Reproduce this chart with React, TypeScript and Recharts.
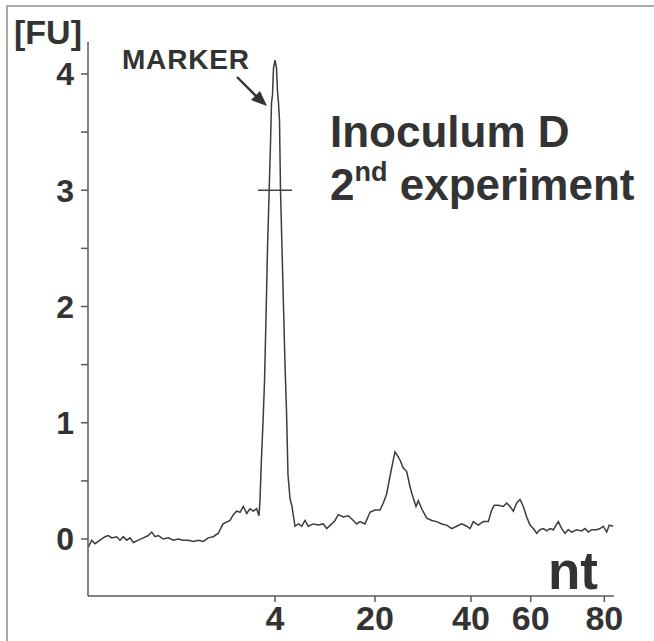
import { LineChart, Line, XAxis, YAxis, ReferenceLine, Customized } from 'recharts';

// migration time (s) and fluorescence [FU]
const timeS = [
  19.03, 19.37, 19.7, 20.2, 20.7, 21.03, 21.37, 21.87, 22.2, 22.53, 22.87, 23.2, 23.53, 24.03, 24.53,
  25.03, 25.37, 25.7, 26.03, 26.53, 27.03, 27.53, 28.03, 28.53, 29.03, 29.53, 30.03, 30.53, 31.03,
  31.53, 32.03, 32.5, 33.2, 33.53, 33.87, 34.2, 34.53, 34.87, 35.2, 35.53, 35.87, 36.1,
  36.2, 36.35, 36.5, 36.65, 36.8, 36.95, 37.1, 37.25, 37.35, 37.45, 37.55, 37.7, 37.85, 37.95, 38.05,
  38.15, 38.25, 38.4, 38.55, 38.7, 38.85, 39.0, 39.2, 39.4, 39.7,
  40.03, 40.37, 40.7, 41.03, 41.53, 42.03, 42.53, 42.87, 43.37, 43.7, 44.03, 44.53, 45.03, 45.53,
  45.87, 46.2, 46.7, 47.2, 47.7, 48.2, 48.53, 48.87, 49.2, 49.53, 49.7, 49.93, 50.2, 50.53, 50.87,
  51.2, 51.53, 51.8, 52.03, 52.37, 52.87, 53.37, 53.87, 54.37, 54.87, 55.37, 55.87, 56.37, 56.87,
  57.2, 57.53, 58.03, 58.53, 59.03, 59.37, 59.63, 60.03, 60.53, 60.87, 61.2, 61.53, 61.87, 62.2,
  62.53, 62.87, 63.2, 63.53, 63.87, 64.2, 64.53, 64.87, 65.2, 65.53, 66.03, 66.37, 66.7, 67.03,
  67.37, 67.87, 68.37, 68.7, 69.03, 69.37, 69.87, 70.2, 70.53, 70.87, 71.13, 71.53,
];

const fu = [
  -0.07, -0.01, -0.04, -0.01, 0.02, 0.03, 0.01, 0.02, -0.01, 0.02, -0.01, 0.01, -0.03, -0.01, 0.01,
  0.03, 0.06, 0.02, 0.03, 0.0, 0.01, -0.01, 0.0, -0.01, -0.01, -0.02, -0.01, -0.02, 0.01,
  0.02, 0.05, 0.13, 0.16, 0.21, 0.24, 0.23, 0.28, 0.22, 0.26, 0.24, 0.26, 0.2,
  0.34, 0.7, 1.0, 1.35, 1.9, 2.5, 2.95, 3.4, 3.75, 3.82, 4.05, 4.12, 4.05, 3.85, 3.75,
  3.6, 3.0, 2.5, 2.0, 1.5, 1.1, 0.55, 0.35, 0.28, 0.11,
  0.13, 0.11, 0.16, 0.11, 0.13, 0.12, 0.13, 0.09, 0.13, 0.16, 0.21, 0.19, 0.2, 0.16,
  0.13, 0.15, 0.13, 0.23, 0.25, 0.25, 0.31, 0.39, 0.54, 0.68, 0.75, 0.72, 0.68, 0.61, 0.58,
  0.45, 0.35, 0.28, 0.33, 0.26, 0.18, 0.16, 0.15, 0.13, 0.12, 0.09, 0.11, 0.13, 0.11,
  0.09, 0.15, 0.12, 0.15, 0.15, 0.25, 0.29, 0.29, 0.28, 0.31, 0.28, 0.24, 0.31, 0.34,
  0.28, 0.19, 0.12, 0.09, 0.05, 0.08, 0.09, 0.07, 0.09, 0.08, 0.15, 0.09, 0.05, 0.08,
  0.06, 0.08, 0.07, 0.09, 0.06, 0.08, 0.08, 0.09, 0.11, 0.06, 0.12, 0.11,
];

// ladder sizes (nt) shown on the x axis and where they sit in time
const xTickTimes = [37.7, 47.7, 57.3, 63.27, 70.63];
const xTickLabels = ['4', '20', '40', '60', '80'];
const yTicks = [0, 0.5, 1, 1.5, 2, 2.5, 3, 3.5, 4];

const data = timeS.map((t, i) => ({ t, fu: fu[i] }));

const FONT = '"Liberation Sans", Arial, Helvetica, sans-serif';
const INK = '#333333';
const AXIS = '#5a5a5a';

function Annotations() {
  return (
    <g fontFamily={FONT} fontWeight="bold" fill={INK}>
      <text x={14} y={44} fontSize={34}>[FU]</text>
      <text x={122} y={69} fontSize={28} letterSpacing={0.8}>MARKER</text>
      <line x1={237} y1={77} x2={259} y2={99} stroke={INK} strokeWidth={2.4} />
      <polygon points="267,106 251,100 260,91" fill={INK} />
      <text x={330} y={147} fontSize={44}>Inoculum D</text>
      <text x={330} y={200} fontSize={44}>
        2<tspan fontSize={27} dy={-19}>nd</tspan>
        <tspan dy={19}> experiment</tspan>
      </text>
      <text x={548} y={589} fontSize={53}>nt</text>
    </g>
  );
}

export default function App() {
  return (
    <div style={{ position: 'fixed', left: 0, top: 0, width: 654, height: 641, background: '#fff' }}>
      <div style={{ position: 'absolute', left: 6, top: 5, right: 0, bottom: 0, borderLeft: '2px solid #aaa', borderTop: '2px solid #aaa' }} />
      <LineChart width={654} height={641} data={data} margin={{ top: 42, right: 40, bottom: 0, left: 0 }} style={{ position: 'absolute', left: 0, top: 0 }}>
        <XAxis
          dataKey="t"
          type="number"
          domain={[19, 71.6]}
          allowDataOverflow
          ticks={xTickTimes}
          tickFormatter={(v: number) => xTickLabels[xTickTimes.indexOf(v)] ?? ''}
          height={45}
          tickSize={6}
          tickMargin={4}
          stroke={AXIS}
          strokeWidth={1.5}
          tick={{ fill: INK, fontSize: 34, fontWeight: 'bold', fontFamily: FONT }}
        />
        <YAxis
          type="number"
          domain={[-0.49, 4.275]}
          allowDataOverflow
          ticks={yTicks}
          interval={0}
          tickFormatter={(v: number) => (Number.isInteger(v) ? String(v) : '')}
          width={88}
          tickSize={7}
          tickMargin={7}
          stroke={AXIS}
          strokeWidth={1.5}
          tick={{ fill: INK, fontSize: 32, fontWeight: 'bold', fontFamily: FONT }}
        />
        <ReferenceLine
          segment={[{ x: 36.0, y: 3 }, { x: 39.4, y: 3 }]}
          stroke="#444"
          strokeWidth={1.3}
        />
        <Line
          type="linear"
          dataKey="fu"
          stroke="#3c3c3c"
          strokeWidth={1.5}
          dot={false}
          isAnimationActive={false}
        />
        <Customized component={<Annotations />} />
      </LineChart>
    </div>
  );
}
